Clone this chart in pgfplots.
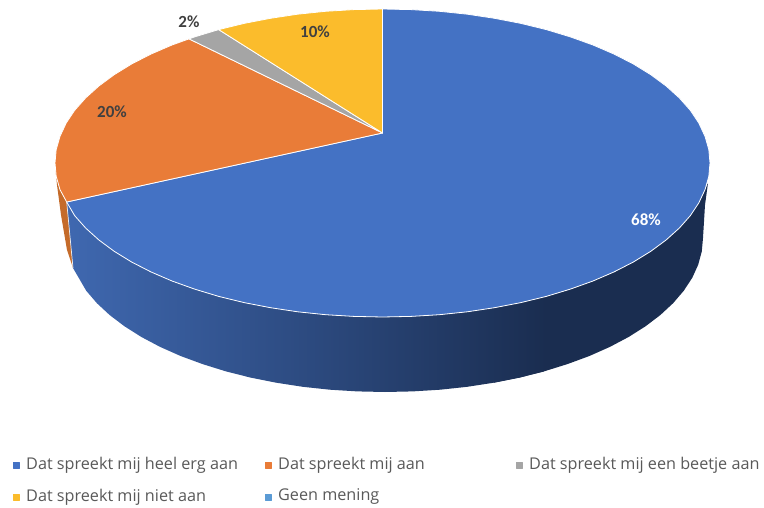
\documentclass[border=0pt]{standalone}
\usepackage{fontspec}
\setmainfont{Open Sans}
\newfontfamily\lab{Carlito}[Scale=1]
\usepackage{pgfplots}
\pgfplotsset{compat=1.18}
\definecolor{cblue}{HTML}{4472C4}
\definecolor{corange}{HTML}{E97C38}
\definecolor{cgrey}{HTML}{A5A5A5}
\definecolor{cyellow}{HTML}{FBBC2C}
\definecolor{clight}{HTML}{5B9BD5}
\definecolor{sideA}{HTML}{3F68B0}
\definecolor{sideM}{HTML}{2C4A82}
\definecolor{sideD}{HTML}{1A2D50}
\definecolor{sideO}{HTML}{C56B2A}
\definecolor{txt}{HTML}{595959}
\definecolor{lbl}{HTML}{404040}
\begin{document}
\begin{tikzpicture}
\begin{axis}[
  hide axis, scale only axis, width=764pt, height=508pt,
  xmin=0, xmax=764, ymin=0, ymax=508, y dir=reverse, clip=false,
  every axis plot/.append style={line join=round}
]
% page extent
\addplot[draw=none] coordinates {(0,0)(764,508)};
% orange side
\addplot[draw=none, fill=sideO] coordinates {
 (55.5,170)(56.2,176.4)(60,189.7)(66.7,202)(73,268)(67,250)(61,215)(57,185)
} -- cycle;
% dark right part of the side
\addplot[draw=none, fill=sideD] coordinates {
 (494.5,307.7)(520.9,302.6)(546.3,296.4)(570.4,289.1)(593,281)(614.1,271.9)(633.4,262)(650.8,251.3)(666.1,240)(679.3,228.1)(690.3,215.7)(698.8,202.9)(705,189.7)(708,183)
 (705,205)(703,238)(701.8,251.4)(698.2,264.7)(692.2,277.9)(683.8,290.7)(673.2,303.1)(660.4,315)(645.5,326.3)(628.6,337)(609.9,346.9)(589.4,356)(567.4,364.1)(544,371.4)(519.4,377.6)(493.8,382.7)
} -- cycle;
% shaded left part of the side
\addplot[draw=none, left color=sideA, middle color=sideM, right color=sideD] coordinates {
 (66.7,202)(74.7,215.7)(85.7,228.1)(98.9,240)(114.2,251.3)(131.6,262)(150.9,271.9)(172,281)(194.6,289.1)(218.7,296.4)(244.1,302.6)(270.5,307.7)(297.7,311.8)(325.6,314.7)(353.9,316.4)(382.5,317)(411.1,316.4)(439.4,314.7)(467.3,311.8)(494.5,307.7)(520.9,302.6)(546.3,296.4)
 (544,371.4)(519.4,377.6)(493.8,382.7)(467.3,386.8)(440.2,389.7)(412.7,391.4)(385,392)(357.3,391.4)(329.8,389.7)(302.7,386.8)(276.2,382.7)(250.6,377.6)(226,371.4)(202.6,364.1)(180.6,356)(160.1,346.9)(141.4,337)(124.5,326.3)(109.6,315)(96.8,303.1)(86.2,290.7)(73,268)
} -- cycle;
% seam between orange and blue side
\addplot[draw=white!85!gray, line width=0.7pt] coordinates {(66.7,202)(73,268)};
% top faces
\addplot[draw=white, line width=0.8pt, fill=cblue] coordinates {
 (382.5,133)(382.5,9)(411.1,9.6)(439.4,11.3)(467.3,14.2)(494.5,18.3)(520.9,23.4)(546.3,29.6)(570.4,36.9)(593,45)(614.1,54.1)(633.4,64)(650.8,74.7)(666.1,86)(679.3,97.9)(690.3,110.3)(698.8,123.1)(705,136.3)(708.8,149.6)(710,163)
 (708.8,176.4)(705,189.7)(698.8,202.9)(690.3,215.7)(679.3,228.1)(666.1,240)(650.8,251.3)(633.4,262)(614.1,271.9)(593,281)(570.4,289.1)(546.3,296.4)(520.9,302.6)(494.5,307.7)(467.3,311.8)(439.4,314.7)(411.1,316.4)(382.5,317)
 (353.9,316.4)(325.6,314.7)(297.7,311.8)(270.5,307.7)(244.1,302.6)(218.7,296.4)(194.6,289.1)(172,281)(150.9,271.9)(131.6,262)(114.2,251.3)(98.9,240)(85.7,228.1)(74.7,215.7)(66.7,202)
} -- cycle;
\addplot[draw=white, line width=0.8pt, fill=corange] coordinates {
 (382.5,133)(66.7,202)(60,189.7)(56.2,176.4)(55,163)(56.2,149.6)(60,136.3)(66.2,123.1)(74.7,110.3)(85.7,97.9)(98.9,86)(114.2,74.7)(131.6,64)(150.9,54.1)(172,45)(189,38.9)
} -- cycle;
\addplot[draw=white, line width=0.8pt, fill=cgrey] coordinates {
 (382.5,133)(189,38.9)(194.6,36.9)(218.7,29.6)
} -- cycle;
\addplot[draw=white, line width=0.8pt, fill=cyellow] coordinates {
 (382.5,133)(218.7,29.6)(244.1,23.4)(270.5,18.3)(297.7,14.2)(325.6,11.3)(353.9,9.6)(382.5,9)
} -- cycle;
% legend markers
\addplot[only marks, mark=square*, mark size=3.1pt, mark options={draw=cblue, fill=cblue}] coordinates {(16,465)};
\addplot[only marks, mark=square*, mark size=3.1pt, mark options={draw=corange, fill=corange}] coordinates {(268,465)};
\addplot[only marks, mark=square*, mark size=3.1pt, mark options={draw=cgrey, fill=cgrey}] coordinates {(519,465)};
\addplot[only marks, mark=square*, mark size=3.1pt, mark options={draw=cyellow, fill=cyellow}] coordinates {(16,497)};
\addplot[only marks, mark=square*, mark size=3.1pt, mark options={draw=clight, fill=clight}] coordinates {(268,497)};
% value labels
\node[font=\lab\bfseries\fontsize{17}{17}\selectfont, text=lbl] at (axis cs:112,112) {20\%};
\node[font=\lab\bfseries\fontsize{17}{17}\selectfont, text=lbl] at (axis cs:189,22) {2\%};
\node[font=\lab\bfseries\fontsize{17}{17}\selectfont, text=lbl] at (axis cs:315,32) {10\%};
\node[font=\lab\bfseries\fontsize{17}{17}\selectfont, text=white] at (axis cs:646,220) {68\%};
% legend text
\node[anchor=west, inner sep=0pt, font=\fontsize{16.2}{17}\selectfont, text=txt] at (axis cs:26,465) {Dat spreekt mij heel erg aan};
\node[anchor=west, inner sep=0pt, font=\fontsize{16.2}{17}\selectfont, text=txt] at (axis cs:278,465) {Dat spreekt mij aan};
\node[anchor=west, inner sep=0pt, font=\fontsize{16.2}{17}\selectfont, text=txt] at (axis cs:529,465) {Dat spreekt mij een beetje aan};
\node[anchor=west, inner sep=0pt, font=\fontsize{16.2}{17}\selectfont, text=txt] at (axis cs:26,497) {Dat spreekt mij niet aan};
\node[anchor=west, inner sep=0pt, font=\fontsize{16.2}{17}\selectfont, text=txt] at (axis cs:278,497) {Geen mening};
\end{axis}
\end{tikzpicture}
\end{document}
